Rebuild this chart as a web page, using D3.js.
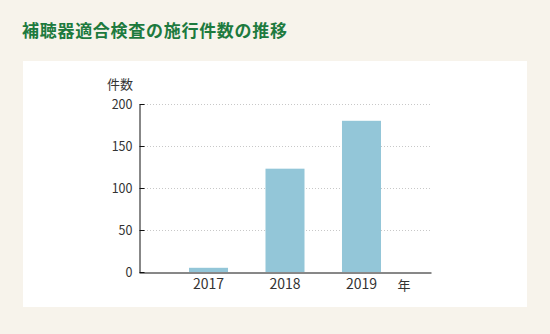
<!DOCTYPE html>
<html lang="ja">
<head>
<meta charset="utf-8">
<script src="https://cdn.jsdelivr.net/npm/d3@7"></script>
<style>
  html, body { margin: 0; padding: 0; background: #f7f3eb; }
  svg { display: block; }
  text { font-family: "Noto Sans CJK JP", "Noto Sans", sans-serif; }
</style>
</head>
<body>
<svg id="chart" width="550" height="334"></svg>
<script>
// 補聴器適合検査の施行件数（年別）
const years = ["2017", "2018", "2019"];
const counts = [5, 123, 180];
const yTicks = [0, 50, 100, 150, 200];

const svg = d3.select("#chart");

svg.append("rect").attr("x", 0).attr("y", 0).attr("width", 550).attr("height", 334).attr("fill", "#f7f3eb");

svg.append("text")
  .attr("x", 22).attr("y", 36.5)
  .attr("fill", "#1d7a3e")
  .attr("font-size", 17).attr("font-weight", 700)
  .attr("textLength", 265).attr("lengthAdjust", "spacing")
  .text("補聴器適合検査の施行件数の推移");

// white panel
svg.append("rect").attr("x", 23).attr("y", 61).attr("width", 504).attr("height", 246).attr("fill", "#ffffff");

const plotLeft = 139, plotRight = 431, plotTop = 104, plotBottom = 272;

const x = d3.scaleBand().domain(years).range([plotLeft, plotRight]).paddingInner(0.49).paddingOuter(0.654);
const y = d3.scaleLinear().domain([0, 200]).range([plotBottom, plotTop]);

// dotted grid lines
svg.append("g").selectAll("line").data(yTicks.filter(d => d > 0)).join("line")
  .attr("x1", plotLeft + 5).attr("x2", plotRight)
  .attr("y1", d => y(d) + 0.5).attr("y2", d => y(d) + 0.5)
  .attr("stroke", "#c8c8c8").attr("stroke-width", 1).attr("stroke-dasharray", "1,2");

// bars
svg.append("g").selectAll("rect").data(years).join("rect")
  .attr("x", d => x(d)).attr("width", x.bandwidth())
  .attr("y", (d, i) => y(counts[i]))
  .attr("height", (d, i) => y(0) - y(counts[i]))
  .attr("fill", "#93c6d8");

// y axis
const yAxis = svg.append("g").attr("transform", `translate(${plotLeft + 0.5},0)`)
  .call(d3.axisLeft(y).tickValues(yTicks).tickSize(-5).tickSizeOuter(0).tickPadding(7));
yAxis.select(".domain").attr("stroke", "#111");
yAxis.selectAll(".tick line").attr("stroke", "#111");
yAxis.selectAll(".tick text").attr("font-size", 12.5).attr("fill", "#333")
  .attr("font-family", "'Noto Sans CJK JP', 'Noto Sans', sans-serif");

// x axis
const xAxis = svg.append("g").attr("transform", `translate(0,${plotBottom + 0.5})`)
  .call(d3.axisBottom(x).tickSize(0).tickSizeOuter(0).tickPadding(7));
xAxis.select(".domain").attr("stroke", "#111");
xAxis.selectAll(".tick text").attr("font-size", 14).attr("fill", "#333")
  .attr("font-family", "'Noto Sans CJK JP', 'Noto Sans', sans-serif");

// axis titles
svg.append("text").attr("x", 120).attr("y", 89).attr("text-anchor", "middle")
  .attr("font-size", 13).attr("fill", "#333").text("件数");
svg.append("text").attr("x", 404).attr("y", 290).attr("text-anchor", "middle")
  .attr("font-size", 13).attr("fill", "#333").text("年");
</script>
</body>
</html>
